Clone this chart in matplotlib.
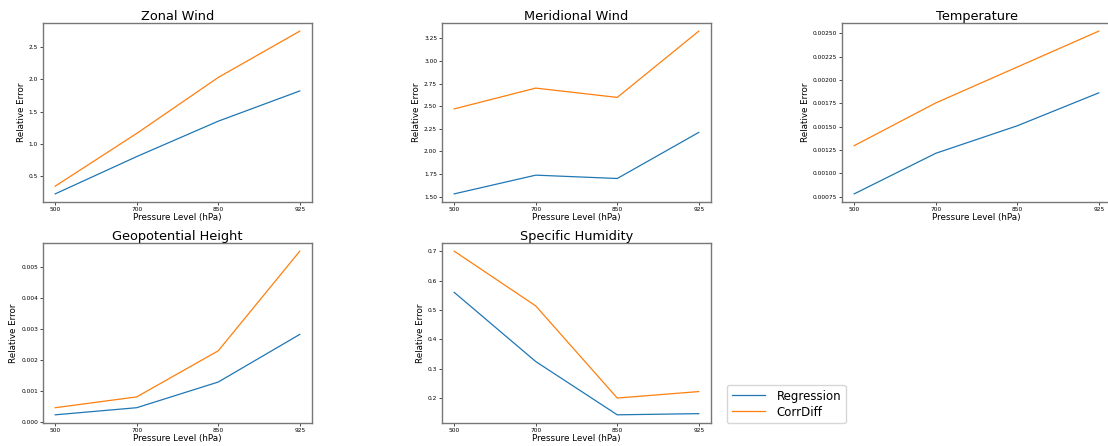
import matplotlib
matplotlib.use("Agg")
import matplotlib.pyplot as plt

levels = ["500", "700", "850", "925"]
titles = ["Zonal Wind", "Meridional Wind", "Temperature", "Geopotential Height", "Specific Humidity"]

regression = {
    "Zonal Wind": [0.22, 0.80, 1.35, 1.82],
    "Meridional Wind": [1.53, 1.737, 1.70, 2.21],
    "Temperature": [0.00078, 0.001215, 0.00151, 0.001863],
    "Geopotential Height": [0.00023, 0.00046, 0.00129, 0.00283],
    "Specific Humidity": [0.560, 0.325, 0.144, 0.148],
}
corrdiff = {
    "Zonal Wind": [0.34, 1.16, 2.03, 2.75],
    "Meridional Wind": [2.47, 2.70, 2.597, 3.33],
    "Temperature": [0.001297, 0.001755, 0.00214, 0.002525],
    "Geopotential Height": [0.00046, 0.00081, 0.0023, 0.00552],
    "Specific Humidity": [0.70, 0.514, 0.201, 0.223],
}

W, H = 1108, 446
fig = plt.figure(figsize=(W / 100, H / 100), dpi=100)

# axes boxes in pixels: (left, top, right, bottom)
boxes = [
    (43, 23, 312, 202),
    (442, 23, 711, 202),
    (842, 23, 1111, 202),
    (43, 243, 312, 423),
    (442, 243, 711, 423),
]

lines = []
for title, (l, t, r, b) in zip(titles, boxes):
    ax = fig.add_axes([l / W, 1 - b / H, (r - l) / W, (b - t) / H])
    x = list(range(len(levels)))
    l1, = ax.plot(x, regression[title], color="#1f77b4", lw=0.9, label="Regression")
    l2, = ax.plot(x, corrdiff[title], color="#ff7f0e", lw=0.9, label="CorrDiff")
    lines = [l1, l2]
    ax.set_xticks(x)
    ax.set_xticklabels(levels)
    ax.set_title(title, fontsize=9.3, pad=2)
    ax.set_xlabel("Pressure Level (hPa)", fontsize=6.3, labelpad=1)
    ax.set_ylabel("Relative Error", fontsize=6.3, labelpad=2)
    ax.tick_params(labelsize=4.2, length=2, width=0.5, pad=1.5)
    for s in ax.spines.values():
        s.set_color("#777777")
        s.set_linewidth(1.0)

fig.legend(lines, ["Regression", "CorrDiff"], loc="upper left",
           bbox_to_anchor=(721 / W, 1 - 379 / H), fontsize=8.5,
           frameon=True, handlelength=2.8, handletextpad=1.0,
           borderpad=0.4, labelspacing=0.25)

fig.savefig("out.png", dpi=100, facecolor="white")
